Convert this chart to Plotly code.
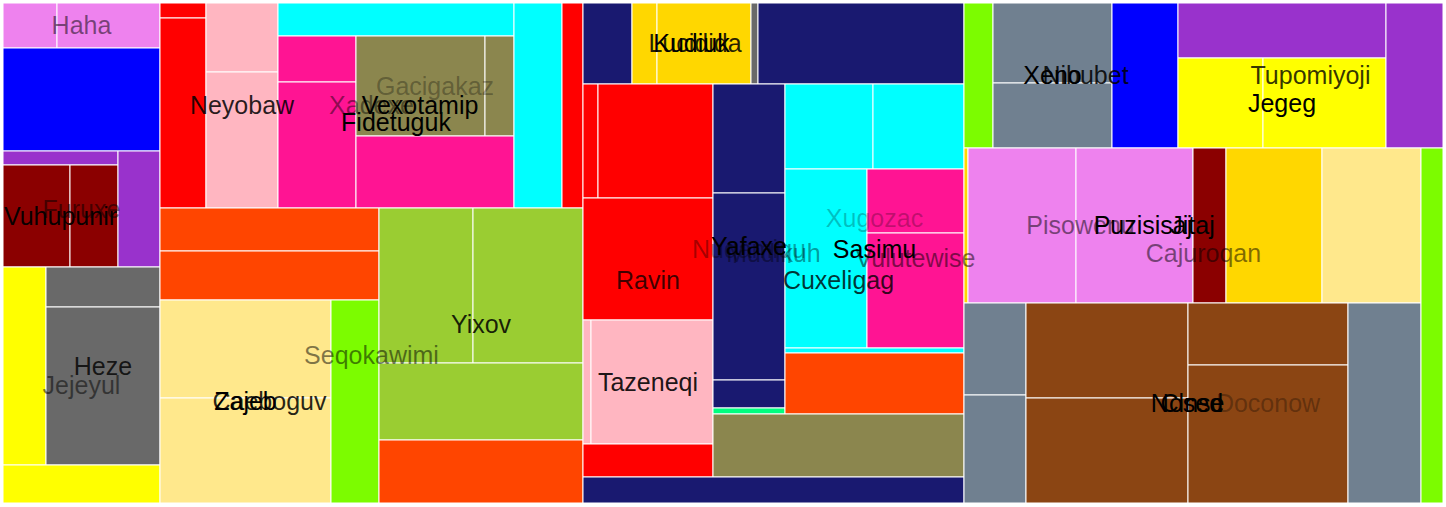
import plotly.graph_objects as go

# ---------------- data: hierarchy (id, parent, label, value) ----------------
node_id = [
    "haha", "haha.1", "haha.2",
    "blue1",
    "furuxe", "furuxe.1", "vuhupunir", "vuh.1", "vuh.2", "furuxe.2",
    "jejeyul", "jej.1", "heze", "heze.1", "heze.2", "jej.2",
    "xadexe", "xad.1", "xad.2", "neyobaw", "ney.1", "ney.2",
    "vexotamip", "vex.1", "fidetuguk", "fid.1", "fid.2", "gacigakaz", "gac.1", "gac.2", "fid.3", "vex.2",
    "xad.3",
    "seqokawimi", "seq.1", "seq.2", "caeboguv", "zajeb", "zaj.1", "zaj.2", "cae.1",
    "yixov", "yix.1", "yix.2", "yix.3", "seq.3",
    "mudikuh", "mud.1", "lucidida", "kudiuk", "kud.1", "kud.2", "luc.1", "mud.2",
    "ravin", "rav.1", "rav.2", "rav.3", "tazeneqi", "taz.1", "taz.2", "rav.4",
    "cuxeligag", "nuqamiqu", "yafaxe", "yaf.1", "yaf.2", "yaf.3", "nuq.1",
    "sasimu", "xugozac", "xug.1", "xug.2", "xug.3", "vulutewise", "vul.1", "vul.2", "xug.4", "sas.1",
    "cux.1", "mud.3",
    "cajuroqan", "caj.1", "nibubet", "xeno", "xen.1", "xen.2", "nib.1",
    "tupomiyoji", "tup.1", "jegeg", "jeg.1", "jeg.2", "tup.2",
    "jitaj", "puzisisaj", "puz.1", "pisowenu", "pis.1", "pis.2", "puz.2", "puz.3", "jit.1",
    "clnse", "bb.1", "bb.2", "nosed", "sb.1", "sb.2", "doconow", "doc.1", "doc.2", "bb.3",
    "caj.2",
]
node_parent = [
    "root", "haha", "haha",
    "root",
    "root", "furuxe", "furuxe", "vuhupunir", "vuhupunir", "furuxe",
    "root", "jejeyul", "jejeyul", "heze", "heze", "jejeyul",
    "root", "xadexe", "xadexe", "xadexe", "neyobaw", "neyobaw",
    "xadexe", "vexotamip", "vexotamip", "fidetuguk", "fidetuguk", "fidetuguk", "gacigakaz", "gacigakaz", "fidetuguk", "vexotamip",
    "xadexe",
    "root", "seqokawimi", "seqokawimi", "seqokawimi", "caeboguv", "zajeb", "zajeb", "caeboguv",
    "seqokawimi", "yixov", "yixov", "yixov", "seqokawimi",
    "root", "mudikuh", "mudikuh", "lucidida", "kudiuk", "kudiuk", "lucidida", "mudikuh",
    "mudikuh", "ravin", "ravin", "ravin", "ravin", "tazeneqi", "tazeneqi", "ravin",
    "mudikuh", "cuxeligag", "nuqamiqu", "yafaxe", "yafaxe", "yafaxe", "nuqamiqu",
    "cuxeligag", "sasimu", "xugozac", "xugozac", "xugozac", "xugozac", "vulutewise", "vulutewise", "xugozac", "sasimu",
    "cuxeligag", "mudikuh",
    "root", "cajuroqan", "cajuroqan", "nibubet", "xeno", "xeno", "nibubet",
    "cajuroqan", "tupomiyoji", "tupomiyoji", "jegeg", "jegeg", "tupomiyoji",
    "cajuroqan", "jitaj", "puzisisaj", "puzisisaj", "pisowenu", "pisowenu", "puzisisaj", "puzisisaj", "jitaj",
    "cajuroqan", "clnse", "clnse", "clnse", "nosed", "nosed", "nosed", "doconow", "doconow", "clnse",
    "cajuroqan",
]
node_label = {
    "haha": "Haha", "furuxe": "Furuxe", "vuhupunir": "Vuhupunir", "jejeyul": "Jejeyul",
    "heze": "Heze", "xadexe": "Xadexe", "neyobaw": "Neyobaw", "vexotamip": "Vexotamip",
    "fidetuguk": "Fidetuguk", "gacigakaz": "Gacigakaz", "seqokawimi": "Seqokawimi",
    "caeboguv": "Caeboguv", "zajeb": "Zajeb", "yixov": "Yixov", "mudikuh": "Mudikuh",
    "lucidida": "Lucidida", "kudiuk": "Kudiuk", "ravin": "Ravin", "tazeneqi": "Tazeneqi",
    "cuxeligag": "Cuxeligag", "nuqamiqu": "Nuqamiqu", "yafaxe": "Yafaxe", "sasimu": "Sasimu",
    "xugozac": "Xugozac", "vulutewise": "Vulutewise", "cajuroqan": "Cajuroqan",
    "nibubet": "Nibubet", "xeno": "Xeno", "tupomiyoji": "Tupomiyoji", "jegeg": "Jegeg",
    "jitaj": "Jitaj", "puzisisaj": "Puzisisaj", "pisowenu": "Pisowenu", "clnse": "Clnse",
    "nosed": "Nosed", "doconow": "Doconow",
}
leaf_value = {
    "haha.1": 2430, "haha.2": 4635, "blue1": 16171,
    "furuxe.1": 1610, "vuh.1": 6834, "vuh.2": 4896, "furuxe.2": 4872,
    "jej.1": 8514, "heze.1": 4560, "heze.2": 18012, "jej.2": 5966,
    "xad.1": 690, "xad.2": 8740, "ney.1": 4968, "ney.2": 9792,
    "vex.1": 7788, "fid.1": 3588, "fid.2": 9828, "gac.1": 12900, "gac.2": 2900, "fid.3": 11376,
    "vex.2": 9840, "xad.3": 4305,
    "seq.1": 9417, "seq.2": 10731, "zaj.1": 16758, "zaj.2": 17955, "cae.1": 9744,
    "yix.1": 14570, "yix.2": 17050, "yix.3": 15708, "seq.3": 12852,
    "mud.1": 3969, "kud.1": 2025, "kud.2": 7614, "luc.1": 567, "mud.2": 16686,
    "rav.1": 1710, "rav.2": 13110, "rav.3": 15860, "taz.1": 992, "taz.2": 15128, "rav.4": 4290,
    "yaf.1": 7848, "yaf.2": 13464, "yaf.3": 2016, "nuq.1": 432,
    "xug.1": 7480, "xug.2": 7735, "xug.3": 14678, "vul.1": 6208, "vul.2": 11155, "xug.4": 895,
    "sas.1": 10919, "cux.1": 15813, "mud.3": 9906,
    "caj.1": 4205, "xen.1": 9520, "xen.2": 7735, "nib.1": 9570,
    "tup.1": 11440, "jeg.1": 7650, "jeg.2": 11070, "tup.2": 8265,
    "puz.1": 620, "pis.1": 16740, "pis.2": 18135, "puz.2": 5115, "puz.3": 14880, "jit.1": 15345,
    "bb.1": 5704, "bb.2": 6696, "sb.1": 15390, "sb.2": 17010, "doc.1": 9920, "doc.2": 22080,
    "bb.3": 14600, "caj.2": 7810,
}

# ---------------- layout grouping (children per treemap row) ----------------
row_sizes = {
    "root": [4, 2, 1, 1], "furuxe": [2, 1], "jejeyul": [2, 1], "xadexe": [2, 1, 1, 1],
    "vexotamip": [2, 1], "fidetuguk": [2, 1, 1], "seqokawimi": [3, 1, 1], "yixov": [2, 1],
    "mudikuh": [3, 2, 1], "ravin": [2, 1, 1, 1], "cuxeligag": [2, 1], "xugozac": [2, 2, 1],
    "cajuroqan": [3, 2, 1], "tupomiyoji": [2, 1], "clnse": [2, 1, 1], "nosed": [2, 1],
    "puzisisaj": [1, 1, 2],
}

# ---------------- styles ----------------
leaf_color = {
    "haha": "violet", "root": "blue", "furuxe": "darkorchid", "vuhupunir": "#8b0000",
    "jejeyul": "yellow", "heze": "dimgray", "xadexe": "red", "neyobaw": "lightpink",
    "vexotamip": "cyan", "fidetuguk": "deeppink", "gacigakaz": "#8b864e",
    "seqokawimi": "orangered", "caeboguv": "lawngreen", "zajeb": "#ffe88c", "yixov": "yellowgreen",
    "mudikuh": "midnightblue", "lucidida": "dimgray", "kudiuk": "gold", "ravin": "red",
    "tazeneqi": "lightpink", "cuxeligag": "#8b864e", "nuqamiqu": "springgreen",
    "yafaxe": "midnightblue", "sasimu": "orangered", "xugozac": "cyan", "vulutewise": "deeppink",
    "cajuroqan": "lawngreen", "nibubet": "blue", "xeno": "slategray", "tupomiyoji": "darkorchid",
    "jegeg": "yellow", "jitaj": "#ffe88c", "puzisisaj": "gold", "pisowenu": "violet",
    "clnse": "slategray", "nosed": "saddlebrown", "doconow": "saddlebrown",
}
leaf_color_override = {"puz.2": "#8b0000"}
label_alpha = {
    "haha": 0.5, "furuxe": 0.5, "vuhupunir": 0.95, "jejeyul": 0.5, "heze": 0.8,
    "xadexe": 0.45, "neyobaw": 0.85, "vexotamip": 1.0, "fidetuguk": 1.0, "gacigakaz": 0.3,
    "seqokawimi": 0.5, "caeboguv": 0.85, "zajeb": 1.0, "yixov": 0.85,
    "mudikuh": 0.4, "lucidida": 0.85, "kudiuk": 1.0, "ravin": 0.75, "tazeneqi": 0.9,
    "cuxeligag": 0.8, "nuqamiqu": 0.35, "yafaxe": 1.0, "sasimu": 1.0, "xugozac": 0.25,
    "vulutewise": 0.5, "cajuroqan": 0.5, "nibubet": 0.85, "xeno": 1.0, "tupomiyoji": 0.8,
    "jegeg": 1.0, "jitaj": 1.0, "puzisisaj": 1.0, "pisowenu": 0.5, "clnse": 1.0,
    "nosed": 1.0, "doconow": 0.3,
}
LABEL_DY = 2.5  # baseline nudge so text sits visually centred
W, H = 1440, 500

# ---------------- treemap computation ----------------
children = {}
for i, p in zip(node_id, node_parent):
    children.setdefault(p, []).append(i)

value = {}
def total(n):
    if n in leaf_value:
        value[n] = leaf_value[n]
    else:
        value[n] = sum(total(c) for c in children[n])
    return value[n]
total("root")

rect = {"root": (0.0, 0.0, W, H)}
def layout(n):
    kids = children.get(n, [])
    if not kids:
        return
    x0, y0, x1, y1 = rect[n]
    remaining = float(value[n])
    sizes = row_sizes.get(n, [1] * len(kids))
    i = 0
    for s in sizes:
        row = kids[i:i + s]
        i += s
        rv = float(sum(value[k] for k in row))
        dx, dy = x1 - x0, y1 - y0
        if dx < dy:
            h = dy * rv / remaining
            cx = x0
            for k in row:
                w = dx * value[k] / rv
                rect[k] = (cx, y0, cx + w, y0 + h)
                cx += w
            y0 += h
        else:
            w = dx * rv / remaining
            cy = y0
            for k in row:
                h = dy * value[k] / rv
                rect[k] = (x0, cy, x0 + w, cy + h)
                cy += h
            x0 += w
        remaining -= rv
    for k in kids:
        layout(k)
layout("root")

parent_of = dict(zip(node_id, node_parent))
shapes = []
for n in node_id:
    if n in leaf_value:
        x0, y0, x1, y1 = rect[n]
        col = leaf_color_override.get(n, leaf_color.get(parent_of[n]))
        shapes.append(dict(type="rect", xref="x", yref="y", x0=x0, y0=y0, x1=x1, y1=y1,
                           fillcolor=col, line=dict(color="white", width=1), layer="below"))

lx, ly, lt, lc = [], [], [], []
for n in node_id:
    if n in node_label:
        x0, y0, x1, y1 = rect[n]
        lx.append((x0 + x1) / 2)
        ly.append((y0 + y1) / 2 + LABEL_DY)
        lt.append(node_label[n])
        lc.append("rgba(0,0,0,%.2f)" % label_alpha[n])

fig = go.Figure()
fig.add_trace(go.Scatter(x=lx, y=ly, text=lt, mode="text", textposition="middle center",
                         textfont=dict(family="Liberation Sans, Arial, sans-serif", size=25, color=lc),
                         hoverinfo="skip", showlegend=False, cliponaxis=False))
fig.update_layout(
    width=1446, height=507, margin=dict(l=3, r=3, t=3, b=4),
    shapes=shapes, plot_bgcolor="white", paper_bgcolor="white",
    xaxis=dict(range=[0, W], visible=False, fixedrange=True),
    yaxis=dict(range=[H, 0], visible=False, fixedrange=True),
    showlegend=False,
)
fig.write_html("out.html")
